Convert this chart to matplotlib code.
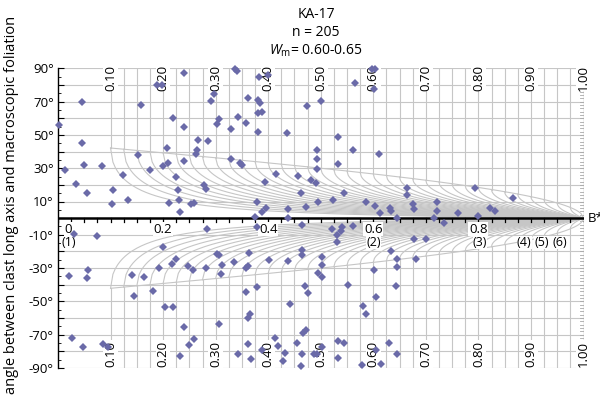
import numpy as np
import matplotlib
matplotlib.use("Agg")
import matplotlib.pyplot as plt

plt.rcParams['font.family'] = ['Open Sans', 'DejaVu Sans']
plt.rcParams['mathtext.fontset'] = 'custom'
plt.rcParams['mathtext.rm'] = 'Open Sans'
plt.rcParams['mathtext.it'] = 'Open Sans:italic'

# ---------------- data ----------------
title_lines = ["KA-17", "n = 205", "$W_{\\mathrm{m}}$= 0.60-0.65"]
ylabel = "angle between clast long axis and macroscopic foliation"

bstar_upper = [0.002, 0.046, 0.045, 0.013, 0.049, 0.034, 0.056, 0.084, 0.105, 0.102,
               0.124, 0.133, 0.157, 0.153, 0.176, 0.188, 0.197, 0.199, 0.209, 0.207,
               0.218, 0.239, 0.239, 0.224, 0.212, 0.228, 0.230, 0.233, 0.254, 0.259,
               0.239, 0.262, 0.264, 0.267, 0.286, 0.278, 0.281, 0.291, 0.296, 0.306,
               0.303, 0.330, 0.330, 0.337, 0.341, 0.383, 0.400, 0.362, 0.381, 0.384,
               0.381, 0.388, 0.343, 0.358, 0.381, 0.436, 0.474, 0.500, 0.565, 0.597,
               0.603, 0.601, 0.532, 0.492, 0.493, 0.493, 0.561, 0.532, 0.611, 0.346,
               0.350, 0.415, 0.393, 0.456, 0.481, 0.491, 0.462, 0.545, 0.378, 0.396,
               0.388, 0.438, 0.472, 0.495, 0.523, 0.587, 0.603, 0.613, 0.632, 0.634,
               0.664, 0.665, 0.646, 0.375, 0.438, 0.676, 0.678, 0.721, 0.721, 0.716,
               0.735, 0.762, 0.794, 0.800, 0.822, 0.832, 0.865]
theta_upper = [55.9, 69.9, 44.9, 28.8, 31.8, 20.4, 15.4, 31.2, 16.8, 8.4,
               25.8, 11.2, 67.9, 37.8, 29.2, 79.9, 79.9, 31.2, 33.2, 41.9,
               59.9, 86.9, 54.8, 24.8, 9.2, 16.8, 11.2, 3.4, 8.4, 8.8,
               34.4, 38.8, 40.8, 46.8, 46.2, 19.8, 17.4, 70.5, 74.3, 59.3,
               56.3, 53.5, 35.3, 89.5, 88.5, 84.5, 85.9, 71.9, 70.9, 69.3,
               62.9, 63.9, 60.8, 56.9, 51.8, 51.2, 67.4, 70.5, 81.3, 89.5,
               89.5, 77.3, 48.5, 41.2, 35.6, 29.8, 40.8, 32.4, 38.3, 33.2,
               32.2, 26.4, 21.8, 25.2, 23.2, 21.2, 15.4, 15.2, 9.8, 6.2,
               3.8, 5.4, 6.8, 9.8, 10.8, 9.4, 7.4, 3.2, 5.8, 4.4,
               18.4, 14.2, 0.0, 0.5, 0.0, 8.2, 5.4, 9.8, 4.2, 0.0,
               -2.8, 2.8, 18.2, 1.4, 6.2, 4.4, 12.4]

bstar_lower = [0.031, 0.074, 0.020, 0.058, 0.055, 0.027, 0.047, 0.086, 0.096, 0.140,
               0.145, 0.164, 0.180, 0.192, 0.200, 0.204, 0.219, 0.216, 0.224, 0.240,
               0.233, 0.248, 0.257, 0.259, 0.250, 0.283, 0.281, 0.302, 0.306, 0.313,
               0.311, 0.307, 0.335, 0.343, 0.357, 0.361, 0.363, 0.357, 0.361, 0.365,
               0.378, 0.362, 0.367, 0.378, 0.402, 0.388, 0.413, 0.418, 0.432, 0.428,
               0.438, 0.441, 0.464, 0.464, 0.464, 0.470, 0.475, 0.471, 0.467, 0.454,
               0.465, 0.462, 0.488, 0.492, 0.502, 0.495, 0.502, 0.502, 0.502, 0.521,
               0.530, 0.530, 0.540, 0.538, 0.562, 0.552, 0.581, 0.586, 0.601, 0.606,
               0.533, 0.544, 0.533, 0.578, 0.606, 0.614, 0.630, 0.646, 0.634, 0.646,
               0.646, 0.644, 0.678, 0.700, 0.681]
theta_lower = [-9.6, -10.6, -34.8, -31.2, -36.2, -71.7, -77.3, -75.3, -77.3, -34.2,
               -46.7, -35.2, -43.7, -30.2, -17.2, -53.3, -53.3, -27.8, -24.8, -65.3,
               -82.7, -28.8, -31.2, -72.3, -75.9, -6.8, -30.2, -21.6, -22.2, -28.2,
               -33.6, -63.3, -26.2, -81.7, -30.2, -28.8, -20.8, -44.2, -59.7, -57.7,
               -41.6, -75.3, -84.7, -5.2, -25.2, -78.9, -71.7, -76.9, -80.9, -85.9,
               -25.8, -51.8, -4.2, -19.2, -22.2, -40.8, -44.8, -67.3, -68.9, -74.9,
               -81.7, -89.0, -81.7, -81.7, -23.2, -33.2, -35.2, -77.3, -28.2, -6.8,
               -10.2, -14.6, -5.6, -7.6, -4.6, -40.2, -52.9, -57.7, -31.2, -47.6,
               -73.9, -74.7, -83.9, -88.3, -79.3, -87.7, -74.7, -81.3, -19.6, -24.6,
               -29.2, -40.8, -12.8, -12.6, -24.6]

# net construction values
wm_lines = [0.100, 0.125, 0.150, 0.175, 0.200, 0.225, 0.250, 0.275, 0.300, 0.325,
            0.350, 0.375, 0.400, 0.425, 0.450, 0.475, 0.500, 0.525, 0.550, 0.575,
            0.600, 0.625, 0.650, 0.675, 0.700, 0.725, 0.750, 0.775, 0.800, 0.825,
            0.850, 0.875, 0.900, 0.925, 0.950, 0.975]
wm_labels = [0.1, 0.2, 0.3, 0.4, 0.5, 0.6, 0.7, 0.8, 0.9, 1.0]
xtick_vals = [0.0, 0.2, 0.4, 0.6, 0.8]
xtick_text = ["0", "0.2", "0.4", "0.6", "0.8"]
ratio_pos = [0.02, 0.6, 0.803, 0.887, 0.921, 0.954]
ratio_text = ["(1)", "(2)", "(3)", "(4)", "(5)", "(6)"]
yticks_lab = [90, 70, 50, 30, 10, -10, -30, -50, -70, -90]

# ---------------- figure ----------------
W, H = 600, 396
fig = plt.figure(figsize=(W / 100, H / 100), dpi=100)
x0, x1 = 58.0, 583.5
y90, ym90 = 68.3, 368.0
ax = fig.add_axes([x0 / W, 1 - ym90 / H, (x1 - x0) / W, (ym90 - y90) / H])
ax.set_xlim(0, 1)
ax.set_ylim(-90, 90)
for s in ['top', 'right', 'bottom']:
    ax.spines[s].set_visible(False)
ax.spines['left'].set_linewidth(1.0)
ax.spines['left'].set_color('black')
ax.set_xticks([])

gcol = '#c6c6c6'
glw = 0.8

# horizontal grid
for t in range(-90, 91, 10):
    if t == 0:
        continue
    ax.plot([0, 1], [t, t], color=gcol, lw=glw, zorder=1, solid_capstyle='butt')

# right border at B*=1
ax.plot([1, 1], [-90, 90], color='#b0b0b0', lw=1.0, zorder=1)
for t in range(-88, 89, 2):
    if t == 0:
        continue
    ax.plot([0.993, 1], [t, t], color='#a8a8a8', lw=0.6, zorder=1)

# Wm curves
for wm in wm_lines:
    top = 0.5 * np.degrees(np.arccos(wm))
    ax.plot([wm, wm], [top, 90], color=gcol, lw=glw, zorder=1)
    ax.plot([wm, wm], [-90, -top], color=gcol, lw=glw, zorder=1)
    b = np.linspace(wm, 1.0, 200)
    th = 0.5 * (np.degrees(np.arccos(wm)) - np.degrees(np.arccos(np.clip(wm / b, -1, 1))))
    ax.plot(b, th, color=gcol, lw=glw, zorder=1)
    ax.plot(b, -th, color=gcol, lw=glw, zorder=1)

# envelope
be = np.linspace(0.1, 1.0, 200)
te = 0.5 * np.degrees(np.arccos(be))
ax.plot(be, te, color=gcol, lw=glw, zorder=1)
ax.plot(be, -te, color=gcol, lw=glw, zorder=1)

# zero axis
ax.plot([0, 1], [0, 0], color='black', lw=1.8, zorder=3, solid_capstyle='butt')
for k in range(0, 41):
    xv = k * 0.025
    ax.plot([xv, xv], [0, -2.6], color='black', lw=0.9, zorder=3)

# y ticks
ax.set_yticks(list(range(-90, 91, 10)))
ax.set_yticklabels([(f"{t}°" if t in yticks_lab else "") for t in range(-90, 91, 10)])
ax.set_yticks(list(range(-85, 90, 10)), minor=True)
ax.tick_params(axis='y', which='major', direction='in', length=4, width=0.8,
               labelsize=9.5, pad=3)
ax.tick_params(axis='y', which='minor', direction='in', length=2, width=0.6)

# data
diam = '#6a6aa8'
ax.plot(bstar_upper, theta_upper, 'D', color=diam, ms=4.2, mew=0, zorder=5, clip_on=False)
ax.plot(bstar_lower, theta_lower, 'D', color=diam, ms=4.2, mew=0, zorder=5, clip_on=False)

# Wm labels top/bottom
wbox = dict(facecolor='white', edgecolor='none', pad=0.6)
for v in wm_labels:
    ax.text(v, 84.4, f"{v:.2f}", rotation=90, ha='center', va='center', fontsize=9.5,
            bbox=wbox, zorder=4)
    ax.text(v, -81.7, f"{v:.2f}", rotation=90, ha='center', va='center', fontsize=9.5,
            bbox=wbox, zorder=4)

# x tick labels and aspect-ratio labels
for v, s in zip(xtick_vals, xtick_text):
    xv = v if v > 0 else 0.02
    ax.text(xv, -6.6, s, ha='center', va='center', fontsize=9.5, bbox=wbox, zorder=4)
rbox = dict(facecolor='white', edgecolor='none', pad=0.2)
for v, s in zip(ratio_pos, ratio_text):
    ax.text(v, -14.6, s, ha='center', va='center', fontsize=9, bbox=rbox, zorder=4)

ax.text(1.0086, 0, "B*", ha='left', va='center', fontsize=9.5, clip_on=False)

# titles
for i, (s, yc) in enumerate(zip(title_lines, [14, 33, 51])):
    fig.text(316 / W, 1 - yc / H, s, ha='center', va='center', fontsize=10)

fig.text(12 / W, 1 - 205 / H, ylabel, rotation=90, ha='center', va='center', fontsize=10.5)

fig.savefig("out.png", dpi=100)
